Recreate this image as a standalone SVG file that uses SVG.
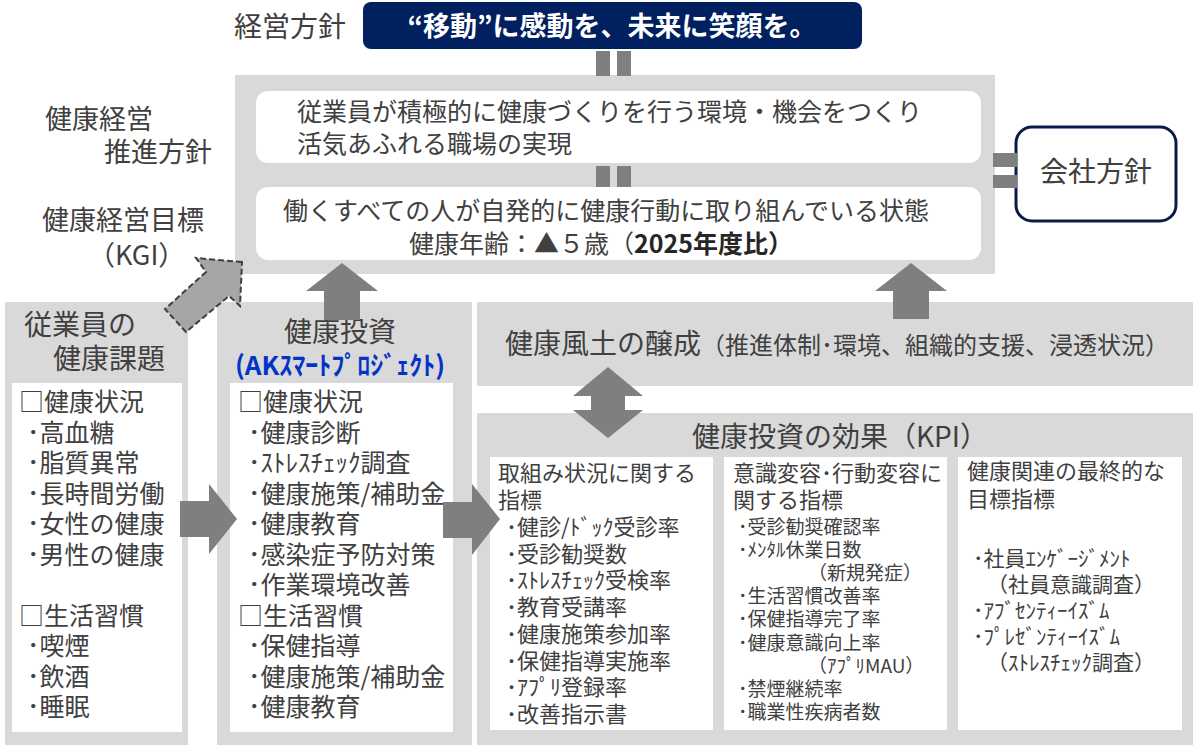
<svg xmlns="http://www.w3.org/2000/svg" width="1200" height="747" viewBox="0 0 1200 747">
<style>
.t{font-family:"Noto Sans CJK JP","Noto Sans",sans-serif;fill:#404040}
.s28{font-size:28px}.s27{font-size:27px}.s25{font-size:25px}.s24{font-size:24px}.s22{font-size:22px}.s21{font-size:21px}.s19{font-size:19px}
.gray{fill:#d9d9d9}.white{fill:#ffffff}
.arr{fill:#7f7f7f}
.bar{fill:#7f7f7f}
</style>
<rect width="1200" height="747" fill="#ffffff"/>

<g id="policy">
<text class="t s28" x="234" y="37">経営方針</text>
<rect x="363" y="2" width="499" height="47" rx="8" fill="#002060"/>
<text x="612" y="36" text-anchor="middle" font-family="'Noto Sans CJK JP','Noto Sans',sans-serif" font-size="27" font-weight="bold" fill="#ffffff">“移動”に感動を、未来に笑顔を。</text>
</g>

<g id="labels">
<text class="t s27"><tspan x="45" y="129">健康経営</tspan><tspan x="104" y="162">推進方針</tspan></text>
<text class="t s27"><tspan x="42" y="230">健康経営目標</tspan><tspan x="88" y="265">（KGI）</tspan></text>
</g>

<g id="kgi-box">
<rect class="gray" x="235" y="75" width="760" height="199"/>
</g>
<g id="promotion-policy">
<rect class="white" x="256" y="91" width="725" height="72" rx="12"/>
<text class="t s25"><tspan x="297" y="121">従業員が積極的に健康づくりを行う環境・機会をつくり</tspan><tspan x="297" y="153">活気あふれる職場の実現</tspan></text>
</g>
<g id="kgi">
<rect class="white" x="256" y="187" width="725" height="73" rx="12"/>
<text class="t s25"><tspan x="283" y="220">働くすべての人が自発的に健康行動に取り組んでいる状態</tspan><tspan x="409" y="253">健康年齢：▲５歳（</tspan><tspan font-weight="bold" fill="#262626">2025年度比）</tspan></text>
</g>

<g id="company-policy">
<rect x="1016" y="127" width="160" height="94" rx="16" fill="#ffffff" stroke="#0b1c48" stroke-width="3"/>
<text class="t s28" x="1096" y="182" text-anchor="middle">会社方針</text>
</g>

<g id="employee-issues">
<rect class="gray" x="5" y="302" width="183" height="443"/>
<rect class="white" x="12" y="383" width="170" height="349"/>
<text class="t s28"><tspan x="24" y="335">従業員の</tspan><tspan x="53" y="369">健康課題</tspan></text>
<text class="t s25"><tspan x="19" y="411">□健康状況</tspan><tspan x="27" y="441.5">･高血糖</tspan><tspan x="27" y="472">･脂質異常</tspan><tspan x="27" y="502.5">･長時間労働</tspan><tspan x="27" y="533">･女性の健康</tspan><tspan x="27" y="563.5">･男性の健康</tspan><tspan x="19" y="624.5">□生活習慣</tspan><tspan x="27" y="655">･喫煙</tspan><tspan x="27" y="685.5">･飲酒</tspan><tspan x="27" y="716">･睡眠</tspan></text>
</g>

<g id="health-investment">
<rect class="gray" x="217" y="302" width="255" height="443"/>
<rect class="white" x="230" y="383" width="223" height="349"/>
<text class="t s28" text-anchor="middle"><tspan x="340" y="342">健康投資</tspan><tspan x="340" y="375" font-size="26" font-weight="bold" fill="#0433c8">(AKｽﾏｰﾄﾌﾟﾛｼﾞｪｸﾄ)</tspan></text>
<text class="t s25"><tspan x="238" y="411">□健康状況</tspan><tspan x="248" y="441.5">･健康診断</tspan><tspan x="248" y="472">･ｽﾄﾚｽﾁｪｯｸ調査</tspan><tspan x="248" y="502.5">･健康施策/補助金</tspan><tspan x="248" y="533">･健康教育</tspan><tspan x="248" y="563.5">･感染症予防対策</tspan><tspan x="248" y="594">･作業環境改善</tspan><tspan x="238" y="624.5">□生活習慣</tspan><tspan x="248" y="655">･保健指導</tspan><tspan x="248" y="685.5">･健康施策/補助金</tspan><tspan x="248" y="716">･健康教育</tspan></text>
</g>

<g id="health-culture">
<rect class="gray" x="477" y="302" width="716" height="84"/>
<text class="t s28" x="505" y="354">健康風土の醸成<tspan font-size="24">（推進体制･環境、組織的支援、浸透状況）</tspan></text>
</g>

<g id="kpi">
<rect class="gray" x="477" y="413" width="716" height="332"/>
<text class="t s28" x="692" y="447">健康投資の効果（KPI）</text>
</g>

<g id="kpi-activity">
<rect class="white" x="490" y="457" width="223" height="273"/>
<text class="t s22"><tspan x="498" y="481">取組み状況に関する</tspan><tspan x="498" y="508">指標</tspan><tspan x="506" y="535">･健診/ﾄﾞｯｸ受診率</tspan><tspan x="506" y="561.7">･受診勧奨数</tspan><tspan x="506" y="588.4">･ｽﾄﾚｽﾁｪｯｸ受検率</tspan><tspan x="506" y="615.1">･教育受講率</tspan><tspan x="506" y="641.8">･健康施策参加率</tspan><tspan x="506" y="668.5">･保健指導実施率</tspan><tspan x="506" y="695.2">･ｱﾌﾟﾘ登録率</tspan><tspan x="506" y="722">･改善指示書</tspan></text>
</g>

<g id="kpi-behavior">
<rect class="white" x="724" y="457" width="223" height="273"/>
<text class="t s22"><tspan x="733" y="481">意識変容･行動変容に</tspan><tspan x="733" y="508">関する指標</tspan></text>
<text class="t s19"><tspan x="738" y="534">･受診勧奨確認率</tspan><tspan x="738" y="557.1">･ﾒﾝﾀﾙ休業日数</tspan><tspan x="808" y="580.2">（新規発症）</tspan><tspan x="738" y="603.3">･生活習慣改善率</tspan><tspan x="738" y="626.4">･保健指導完了率</tspan><tspan x="738" y="649.5">･健康意識向上率</tspan><tspan x="808" y="672.6">（ｱﾌﾟﾘMAU）</tspan><tspan x="738" y="695.7">･禁煙継続率</tspan><tspan x="738" y="718.8">･職業性疾病者数</tspan></text>
</g>

<g id="kpi-final">
<rect class="white" x="958" y="457" width="224" height="273"/>
<text class="t s22"><tspan x="967" y="479">健康関連の最終的な</tspan><tspan x="967" y="507">目標指標</tspan></text>
<text class="t s21"><tspan x="973" y="566">･社員ｴﾝｹﾞｰｼﾞﾒﾝﾄ</tspan><tspan x="987" y="592">（社員意識調査）</tspan><tspan x="973" y="618">･ｱﾌﾞｾﾝﾃｨｰｲｽﾞﾑ</tspan><tspan x="973" y="644">･ﾌﾟﾚｾﾞﾝﾃｨｰｲｽﾞﾑ</tspan><tspan x="987" y="670">（ｽﾄﾚｽﾁｪｯｸ調査）</tspan></text>
</g>

<g id="connectors">
<rect class="bar" x="596" y="51" width="14" height="25"/>
<rect class="bar" x="617" y="51" width="14" height="25"/>
<rect class="bar" x="596" y="166" width="14" height="21"/>
<rect class="bar" x="617" y="166" width="14" height="21"/>
<rect class="bar" x="993" y="153" width="24" height="14"/>
<rect class="bar" x="993" y="175" width="24" height="13"/>
<polygon fill="#a6a6a6" stroke="#404040" stroke-width="2" stroke-dasharray="6 3" points="242,262 196,258 206,272 165,309 186,332 229,296 240,306"/>
<polygon class="arr" points="342,263 378,291 360,291 360,320 324,320 324,291 306,291"/>
<polygon class="arr" points="911,263 947,291 929,291 929,319 893,319 893,291 875,291"/>
<polygon class="arr" points="608,367 643,396 625,396 625,410 643,410 608,438 573,410 591,410 591,396 573,396"/>
<polygon class="arr" points="180,501 209,501 209,484 237,519 209,554 209,537 180,537"/>
<polygon class="arr" points="443,502 472,502 472,484 500,519 472,555 472,538 443,538"/>
</g>
</svg>
